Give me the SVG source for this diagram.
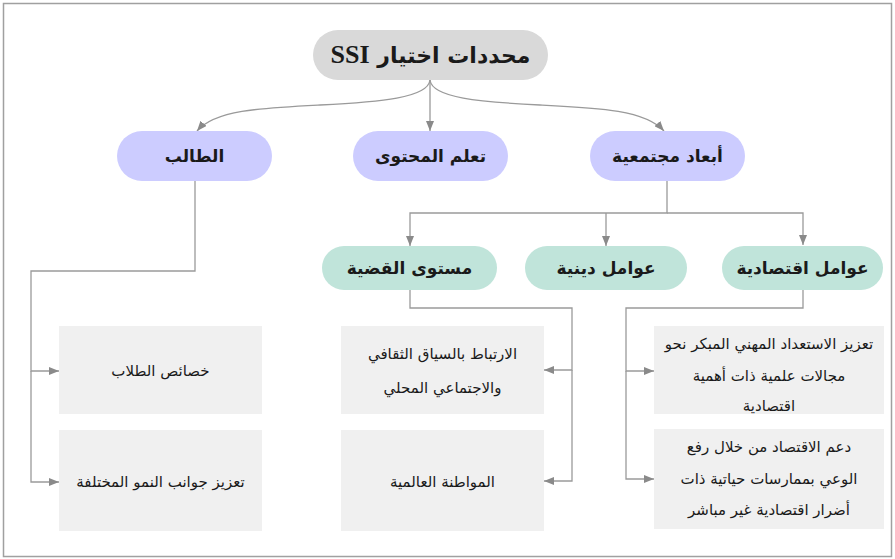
<svg xmlns="http://www.w3.org/2000/svg" width="895" height="559" viewBox="0 0 895 559">
<defs>
<style>
.frame{fill:#ffffff;stroke:#a0a0a0;stroke-width:1.5}
.root{fill:#d9d9d9}
.l2{fill:#ccccff}
.l3{fill:#c0e4da}
.box{fill:#f0f0f0}
.conn{fill:none;stroke:#9a9a9a;stroke-width:1.3}
text{font-family:"DejaVu Sans","Noto Sans",sans-serif;fill:#1a1a1a;text-anchor:middle;direction:rtl}
.t1{font-size:22px;font-weight:bold}
.t2{font-size:17px;font-weight:bold}
.t3{font-size:15px}
.lat{font-family:"Liberation Serif",serif;font-size:26px;font-weight:bold}
</style>
<marker id="arr" viewBox="0 0 10 8" refX="10" refY="4" markerWidth="10" markerHeight="8" markerUnits="userSpaceOnUse" orient="auto">
<path d="M0,0 L10,4 L0,8 z" fill="#8a8a8a"/>
</marker>
</defs>
<rect class="frame" x="3.5" y="3.5" width="888" height="553"/>
<g id="connectors">
<path class="conn" d="M430,80 C428,98 380,102 320,105 S215,110 197,131" marker-end="url(#arr)"/>
<path class="conn" d="M430,80 V131" marker-end="url(#arr)"/>
<path class="conn" d="M430,80 C432,98 480,102 540,105 S645,110 664,131" marker-end="url(#arr)"/>
<path class="conn" d="M667,181 V213 H410 V246" marker-end="url(#arr)"/>
<path class="conn" d="M606,213 V246" marker-end="url(#arr)"/>
<path class="conn" d="M667,213 H803 V245" marker-end="url(#arr)"/>
<path class="conn" d="M195,181 V271 H31 V371 H59" marker-end="url(#arr)"/>
<path class="conn" d="M31,371 V482 H59" marker-end="url(#arr)"/>
<path class="conn" d="M410,290 V308 H572 V370 H544" marker-end="url(#arr)"/>
<path class="conn" d="M572,370 V481 H544" marker-end="url(#arr)"/>
<path class="conn" d="M803,289 V308 H626 V371 H654" marker-end="url(#arr)"/>
<path class="conn" d="M626,371 V479 H654" marker-end="url(#arr)"/>
</g>
<g id="root">
<rect class="root" x="313" y="30" width="235" height="50" rx="25"/>
<text class="t1" x="430.5" y="63">محددات اختيار <tspan class="lat">SSI</tspan></text>
</g>
<g id="student">
<rect class="l2" x="117" y="131" width="155" height="50" rx="25"/>
<text class="t2" x="194.5" y="162">الطالب</text>
</g>
<g id="content">
<rect class="l2" x="353" y="131" width="155" height="50" rx="25"/>
<text class="t2" x="430.5" y="162">تعلم المحتوى</text>
</g>
<g id="social">
<rect class="l2" x="590" y="131" width="155" height="50" rx="25"/>
<text class="t2" x="667.5" y="162">أبعاد مجتمعية</text>
</g>
<g id="issue">
<rect class="l3" x="322" y="246" width="175" height="44" rx="22"/>
<text class="t2" x="409.5" y="274">مستوى القضية</text>
</g>
<g id="religious">
<rect class="l3" x="525" y="246" width="162" height="44" rx="22"/>
<text class="t2" x="606" y="274">عوامل دينية</text>
</g>
<g id="economic">
<rect class="l3" x="722" y="246" width="161" height="44" rx="22"/>
<text class="t2" x="802.5" y="274">عوامل اقتصادية</text>
</g>
<g id="student-traits">
<rect class="box" x="59" y="326" width="203" height="88"/>
<text class="t3" x="160.5" y="376">خصائص الطلاب</text>
</g>
<g id="growth">
<rect class="box" x="59" y="430" width="203" height="101"/>
<text class="t3" x="160.5" y="487">تعزيز جوانب النمو المختلفة</text>
</g>
<g id="context">
<rect class="box" x="341" y="326" width="203" height="88"/>
<text class="t3" x="442.5" y="359">الارتباط بالسياق الثقافي</text>
<text class="t3" x="442.5" y="393">والاجتماعي المحلي</text>
</g>
<g id="citizenship">
<rect class="box" x="341" y="430" width="203" height="101"/>
<text class="t3" x="442.5" y="487">المواطنة العالمية</text>
</g>
<g id="career">
<rect class="box" x="654" y="326" width="230" height="88"/>
<text class="t3" x="769" y="349">تعزيز الاستعداد المهني المبكر نحو</text>
<text class="t3" x="769" y="381">مجالات علمية ذات أهمية</text>
<text class="t3" x="769" y="411">اقتصادية</text>
</g>
<g id="economy">
<rect class="box" x="654" y="429" width="230" height="100"/>
<text class="t3" x="769" y="452">دعم الاقتصاد من خلال رفع</text>
<text class="t3" x="769" y="484">الوعي بممارسات حياتية ذات</text>
<text class="t3" x="769" y="515">أضرار اقتصادية غير مباشر</text>
</g>
</svg>
